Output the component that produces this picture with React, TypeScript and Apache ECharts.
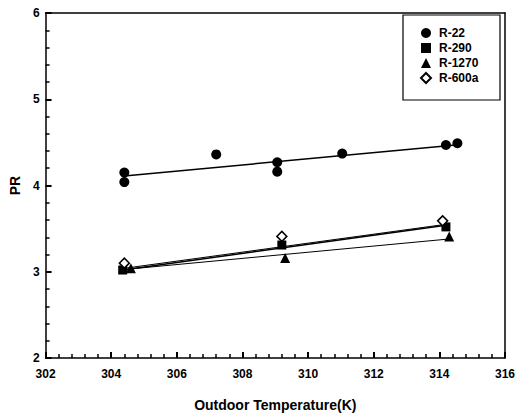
import React, { useEffect, useRef } from "react";
import * as echarts from "echarts";

const xR22 = [304.4, 304.4, 307.2, 309.06, 309.06, 311.04, 314.2, 314.55];
const yR22 = [4.15, 4.04, 4.36, 4.27, 4.16, 4.37, 4.47, 4.49];
const xR290 = [304.35, 309.2, 314.2];
const yR290 = [3.02, 3.31, 3.52];
const xR1270 = [304.6, 309.3, 314.3];
const yR1270 = [3.04, 3.16, 3.41];
const xR600a = [304.4, 309.2, 314.1];
const yR600a = [3.1, 3.41, 3.59];

// fitted trend lines: [x, y] endpoints
const fitR22 = [[304.4, 4.11], [314.5, 4.47]];
const fitR290 = [[304.35, 3.02], [314.2, 3.54]];
const fitR600a = [[304.4, 3.04], [314.2, 3.55]];
const fitR1270 = [[304.5, 3.03], [314.3, 3.38]];

const xTicks = [302, 316];
const yTicks = [2, 6];

const zip = (a: number[], b: number[]) => a.map((v, i) => [v, b[i]]);

const FONT = "Liberation Sans, Arial, sans-serif";

export default function App() {
  const ref = useRef<HTMLDivElement>(null);
  useEffect(() => {
    document.body.style.margin = "0";
    if (!ref.current) return;
    const chart = echarts.init(ref.current, null, { renderer: "svg" });
    const tickStyle = {
      axisTick: { show: true, inside: true, length: 6, lineStyle: { color: "#000", width: 2 } },
      minorTick: { show: true, splitNumber: 5, length: 4, lineStyle: { color: "#000", width: 1.5 } },
    };
    const lineSeries = (name: string, data: number[][], width: number) => ({
      type: "line",
      name,
      data,
      showSymbol: false,
      symbol: "none",
      lineStyle: { color: "#000", width },
      z: 1,
    });
    chart.setOption({
      animation: false,
      grid: { left: 41, right: 13, top: 13, bottom: 59 },
      xAxis: [
        {
          type: "value",
          min: xTicks[0],
          max: xTicks[1],
          interval: 2,
          name: "Outdoor Temperature(K)",
          nameLocation: "middle",
          nameGap: 40,
          nameTextStyle: { color: "#000", fontFamily: FONT, fontWeight: "bold", fontSize: 14 },
          axisLine: { show: true, lineStyle: { color: "#000", width: 1.5 } },
          ...tickStyle,
          splitLine: { show: false },
          axisLabel: { color: "#000", fontFamily: FONT, fontWeight: "bold", fontSize: 12, margin: 10 },
        },
        {
          type: "value",
          position: "top",
          min: xTicks[0],
          max: xTicks[1],
          interval: 2,
          axisLine: { show: true, lineStyle: { color: "#000", width: 1.5 } },
          axisTick: { show: false },
          axisLabel: { show: false },
          splitLine: { show: false },
        },
      ],
      yAxis: [
        {
          type: "value",
          min: yTicks[0],
          max: yTicks[1],
          interval: 1,
          name: "PR",
          nameLocation: "middle",
          nameGap: 20,
          nameTextStyle: { color: "#000", fontFamily: FONT, fontWeight: "bold", fontSize: 14 },
          axisLine: { show: true, lineStyle: { color: "#000", width: 1.5 } },
          ...tickStyle,
          splitLine: { show: false },
          axisLabel: { color: "#000", fontFamily: FONT, fontWeight: "bold", fontSize: 12, margin: 6 },
        },
        {
          type: "value",
          position: "right",
          min: yTicks[0],
          max: yTicks[1],
          interval: 1,
          axisLine: { show: true, lineStyle: { color: "#000", width: 1.5 } },
          axisTick: { show: false },
          axisLabel: { show: false },
          splitLine: { show: false },
        },
      ],
      graphic: [
        {
          type: "rect",
          shape: { x: 403, y: 15, width: 97, height: 85 },
          style: { fill: "#fff", stroke: "#000", lineWidth: 1.2 },
          z: 10,
        },
      ],
      legend: {
        data: ["R-22", "R-290", "R-1270", "R-600a"],
        orient: "vertical",
        left: 420,
        top: 27,
        itemWidth: 10,
        itemHeight: 10,
        itemGap: 3,
        padding: 0,
        z: 20,
        textStyle: { color: "#000", fontFamily: FONT, fontWeight: "bold", fontSize: 12, padding: [0, 0, 0, 3] },
      },
      series: [
        lineSeries("fitR22", fitR22, 1.5),
        lineSeries("fitR290", fitR290, 1.5),
        lineSeries("fitR600a", fitR600a, 1),
        lineSeries("fitR1270", fitR1270, 1),
        {
          type: "scatter",
          name: "R-22",
          data: zip(xR22, yR22),
          symbol: "circle",
          symbolSize: 10,
          itemStyle: { color: "#000", opacity: 1 },
          z: 3,
        },
        {
          type: "scatter",
          name: "R-290",
          data: zip(xR290, yR290),
          symbol: "rect",
          symbolSize: 9,
          itemStyle: { color: "#000", opacity: 1 },
          z: 3,
        },
        {
          type: "scatter",
          name: "R-1270",
          data: zip(xR1270, yR1270),
          symbol: "triangle",
          symbolSize: 10,
          itemStyle: { color: "#000", opacity: 1 },
          z: 3,
        },
        {
          type: "scatter",
          name: "R-600a",
          data: zip(xR600a, yR600a),
          symbol: "diamond",
          symbolSize: 10,
          itemStyle: { color: "#fff", borderColor: "#000", borderWidth: 1.5, opacity: 1 },
          z: 4,
        },
      ],
    });
    return () => chart.dispose();
  }, []);
  return <div ref={ref} style={{ width: 518, height: 417, background: "#fff" }} />;
}
